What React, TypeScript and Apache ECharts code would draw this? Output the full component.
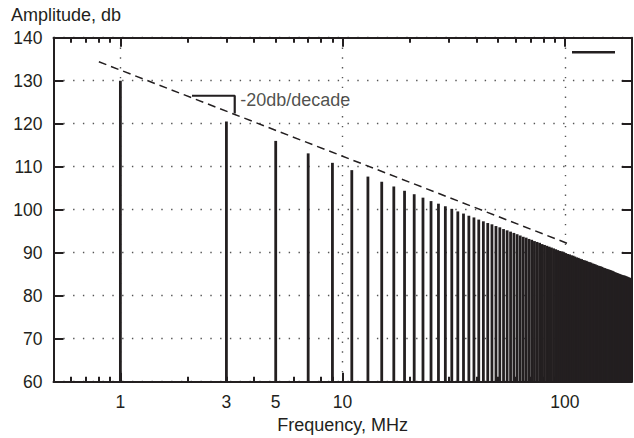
import React, { useEffect, useRef } from "react";
import * as echarts from "echarts";

// Odd harmonics of the spectrum (MHz) and their amplitudes (db)
const harmonicFreqs = [
  1, 3, 5, 7, 9, 11, 13, 15, 17, 19, 21, 23, 25, 27, 29, 31, 33, 35, 37, 39,
  41, 43, 45, 47, 49, 51, 53, 55, 57, 59, 61, 63, 65, 67, 69, 71, 73, 75, 77, 79,
  81, 83, 85, 87, 89, 91, 93, 95, 97, 99, 101, 103, 105, 107, 109, 111, 113, 115, 117, 119,
  121, 123, 125, 127, 129, 131, 133, 135, 137, 139, 141, 143, 145, 147, 149, 151, 153, 155, 157, 159,
  161, 163, 165, 167, 169, 171, 173, 175, 177, 179, 181, 183, 185, 187, 189, 191, 193, 195, 197, 199,
];
const harmonicAmps = [
  130.0, 120.5, 116.0, 113.1, 110.9, 109.2, 107.7, 106.5, 105.4, 104.4, 103.6, 102.8, 102.0, 101.4, 100.8, 100.2, 99.6, 99.1, 98.6, 98.2,
  97.7, 97.3, 96.9, 96.6, 96.2, 95.9, 95.5, 95.2, 94.9, 94.6, 94.3, 94.0, 93.7, 93.5, 93.2, 93.0, 92.7, 92.5, 92.3, 92.0,
  91.8, 91.6, 91.4, 91.2, 91.0, 90.8, 90.6, 90.4, 90.3, 90.1, 89.9, 89.7, 89.6, 89.4, 89.3, 89.1, 88.9, 88.8, 88.6, 88.5,
  88.3, 88.2, 88.1, 87.9, 87.8, 87.7, 87.5, 87.4, 87.3, 87.1, 87.0, 86.9, 86.8, 86.7, 86.5, 86.4, 86.3, 86.2, 86.1, 86.0,
  85.9, 85.8, 85.7, 85.5, 85.4, 85.3, 85.2, 85.1, 85.0, 84.9, 84.8, 84.7, 84.7, 84.6, 84.5, 84.4, 84.3, 84.2, 84.1, 84.0,
];

// -20 db/decade envelope (dashed)
const slopeFreqs = [0.8, 106];
const slopeAmps = [134.4, 91.9];

// slope bracket and its annotation
const bracketFreqs = [2.1, 3.27, 3.27];
const bracketAmps = [126.5, 126.5, 122.4];
const annotationFreq = 3.27;
const annotationAmp = 125.6;
const annotationText = "-20db/decade";

// axes
const xMin = 0.5;
const xMax = 200;
const xTickLabels = [1, 3, 5, 10, 100];
const xMajorTicks = [1, 10, 100];
const xMinorTicks = [0.6, 0.7, 0.8, 0.9, 2, 3, 4, 5, 6, 7, 8, 9, 20, 30, 40, 50, 60, 70, 80, 90];
const yMin = 60;
const yMax = 140;
const yStep = 10;

const xTitle = "Frequency, MHz";
const yTitle = "Amplitude, db";

const lx = (v: number) => Math.log10(v);
const ink = "#231f20";
const font = "'Liberation Sans', Arial, Helvetica, sans-serif";
const dotted = { color: "#555555", width: 1.4, type: [1.4, 8.4] as number[] };

export default function App() {
  const ref = useRef<HTMLDivElement>(null);

  useEffect(() => {
    document.body.style.margin = "0";
    if (!ref.current) return;
    const chart = echarts.init(ref.current, null, { renderer: "svg" });

    const baseX: any = {
      type: "value",
      min: lx(xMin),
      max: lx(xMax),
      gridIndex: 0,
      axisLine: { show: false },
      axisLabel: { show: false },
      splitLine: { show: false },
      axisTick: { show: false },
    };
    const majorTick = {
      show: true,
      inside: true,
      length: 9,
      customValues: xMajorTicks.map(lx),
      lineStyle: { color: ink, width: 2 },
    };
    const minorTick = {
      show: true,
      inside: true,
      length: 5,
      customValues: xMinorTicks.map(lx),
      lineStyle: { color: ink, width: 2 },
    };
    const frameLine = { show: true, onZero: false, lineStyle: { color: ink, width: 2 } };
    const tickText = { color: ink, fontSize: 17.5, fontFamily: font };
    const nameText = { color: ink, fontSize: 18, fontFamily: font };

    const option: any = {
      animation: false,
      backgroundColor: "#fff",
      title: {
        text: yTitle,
        left: 11,
        top: 6,
        padding: 0,
        textStyle: { ...nameText, fontWeight: "normal" },
      },
      legend: {
        data: [{ name: "spectrum", icon: "rect" }],
        left: 572,
        top: 51,
        padding: 0,
        itemWidth: 43,
        itemHeight: 2.5,
        selectedMode: false,
        formatter: () => "",
        textStyle: { fontSize: 1 },
      },
      grid: {
        left: 53.5,
        right: 2.3,
        top: 37.7,
        bottom: 56.3,
        containLabel: false,
        outerBoundsMode: "none",
      },
      xAxis: [
        {
          ...baseX,
          position: "bottom",
          axisLine: frameLine,
          axisTick: majorTick,
          axisLabel: {
            show: true,
            customValues: xTickLabels.map(lx),
            formatter: (v: number) => String(Math.round(Math.pow(10, v))),
            margin: 11,
            hideOverlap: false,
            ...tickText,
          },
          splitLine: { show: true, customValues: xMajorTicks.map(lx), lineStyle: dotted },
          name: xTitle,
          nameLocation: "middle",
          nameGap: 32,
          nameTextStyle: nameText,
        },
        { ...baseX, position: "bottom", axisTick: minorTick },
        { ...baseX, position: "top", axisLine: frameLine, axisTick: majorTick },
        { ...baseX, position: "top", axisTick: minorTick },
      ],
      yAxis: [
        {
          type: "value",
          min: yMin,
          max: yMax,
          interval: yStep,
          position: "left",
          axisLine: frameLine,
          axisTick: { show: true, inside: true, length: 10, lineStyle: { color: ink, width: 2 } },
          axisLabel: { show: true, margin: 11, hideOverlap: false, ...tickText },
          splitLine: { show: true, lineStyle: dotted },
        },
        {
          type: "value",
          min: yMin,
          max: yMax,
          interval: yStep,
          position: "right",
          axisLine: frameLine,
          axisTick: { show: true, inside: true, length: 10, lineStyle: { color: ink, width: 2 } },
          axisLabel: { show: false },
          splitLine: { show: false },
        },
      ],
      series: [
        {
          name: "spectrum",
          type: "custom",
          xAxisIndex: 0,
          yAxisIndex: 0,
          itemStyle: { color: ink },
          data: harmonicFreqs.map((f, i) => [lx(f), harmonicAmps[i]]),
          renderItem: (_params: any, api: any) => {
            const top = api.coord([api.value(0), api.value(1)]);
            const base = api.coord([api.value(0), yMin]);
            const w = 2.8;
            return {
              type: "rect",
              shape: { x: top[0] - w / 2, y: top[1], width: w, height: base[1] - top[1] },
              style: { fill: ink },
            };
          },
          z: 2,
        },
        {
          name: "slope",
          type: "line",
          xAxisIndex: 0,
          yAxisIndex: 0,
          symbol: "none",
          silent: true,
          data: slopeFreqs.map((f, i) => [lx(f), slopeAmps[i]]),
          lineStyle: { color: ink, width: 1.5, type: [8, 5] },
          z: 3,
        },
        {
          name: "bracket",
          type: "line",
          xAxisIndex: 0,
          yAxisIndex: 0,
          symbol: "none",
          silent: true,
          data: bracketFreqs.map((f, i) => [lx(f), bracketAmps[i]]),
          lineStyle: { color: ink, width: 2.2 },
          z: 3,
        },
        {
          name: "annotation",
          type: "scatter",
          xAxisIndex: 0,
          yAxisIndex: 0,
          symbolSize: 1,
          silent: true,
          itemStyle: { color: "rgba(0,0,0,0)" },
          data: [[lx(annotationFreq), annotationAmp]],
          label: {
            show: true,
            position: "right",
            distance: 5,
            formatter: annotationText,
            ...nameText,
          },
          z: 4,
        },
      ],
    };

    chart.setOption(option);
    return () => chart.dispose();
  }, []);

  return <div ref={ref} style={{ width: 634, height: 438 }} />;
}
